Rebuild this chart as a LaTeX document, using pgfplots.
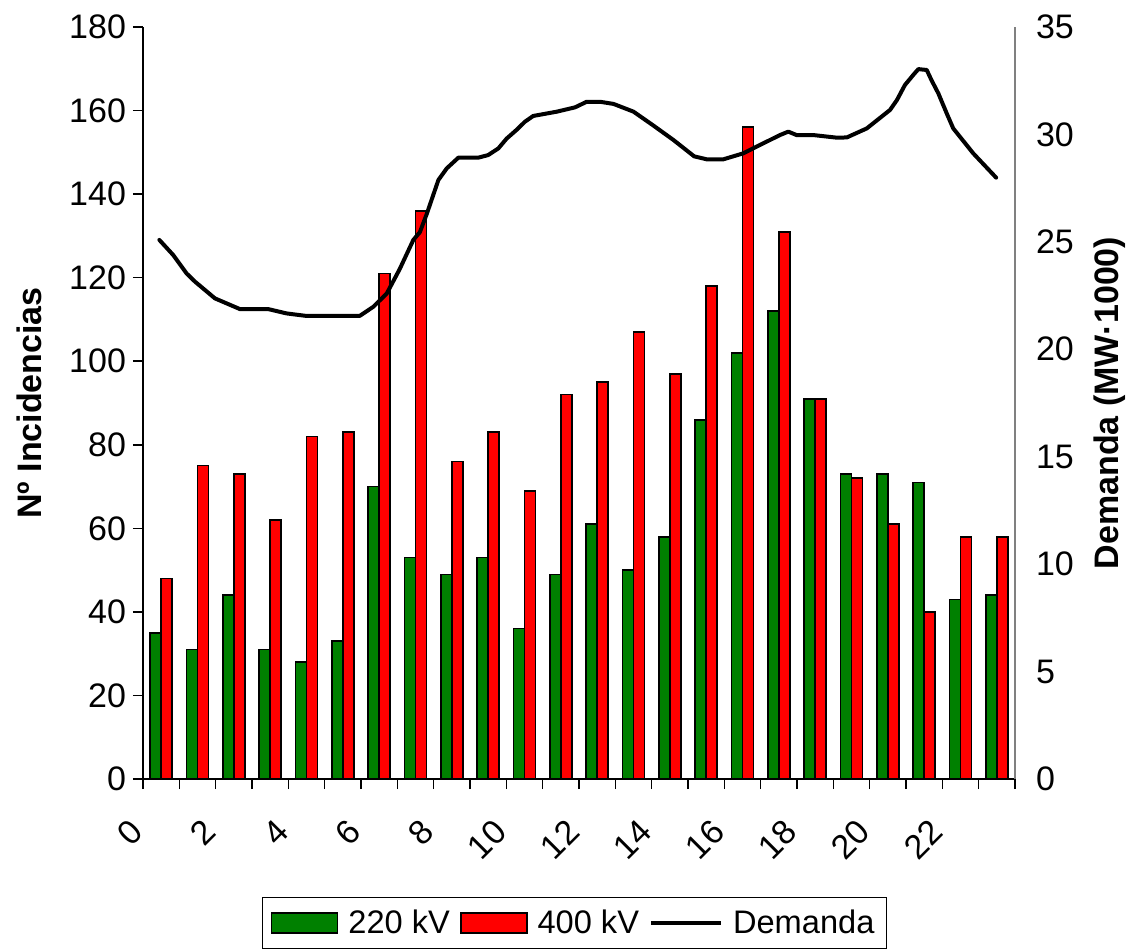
\documentclass[border=0pt]{standalone}
\usepackage{pgfplots}
\pgfplotsset{compat=1.18}
\usepackage{fontspec}
\setmainfont{Liberation Sans}
\newcommand\fs{\fontsize{17}{20.4}\selectfont}
\newcommand\fsl{\fontsize{16.3}{19.5}\selectfont}
\definecolor{bargreen}{HTML}{008000}
\definecolor{barred}{HTML}{FF0000}
\pgfplotsset{
  barlegend/.style={legend image code/.code={\draw[##1] (0pt,-5pt) rectangle (33pt,5pt); \path (36pt,0pt);}},
  linelegend/.style={legend image code/.code={\draw[##1] (0pt,0pt) -- (35pt,0pt); \path (38pt,0pt);}},
}

\pgfplotstableread{
h g r
0.5 35 48
1.5 31 75
2.5 44 73
3.5 31 62
4.5 28 82
5.5 33 83
6.5 70 121
7.5 53 136
8.5 49 76
9.5 53 83
10.5 36 69
11.5 49 92
12.5 61 95
13.5 50 107
14.5 58 97
15.5 86 118
16.5 102 156
17.5 112 131
18.5 91 91
19.5 73 72
20.5 73 61
21.5 71 40
22.5 43 58
23.5 44 58
}\bars

\pgfplotstableread{
x d
0.45 25.09
0.83 24.39
1.20 23.53
1.43 23.15
1.98 22.37
2.67 21.87
3.45 21.87
3.95 21.67
4.51 21.55
5.42 21.55
5.97 21.56
6.34 21.98
6.71 22.60
7.07 23.75
7.44 25.09
7.62 25.45
7.81 26.30
8.13 27.88
8.36 28.42
8.68 28.92
9.23 28.92
9.50 29.04
9.78 29.35
10.01 29.81
10.28 30.21
10.51 30.59
10.74 30.86
11.39 31.06
11.89 31.26
12.21 31.52
12.58 31.52
12.95 31.42
13.50 31.06
14.05 30.41
14.60 29.74
15.17 28.98
15.52 28.84
15.97 28.84
16.52 29.12
16.98 29.51
17.53 29.97
17.76 30.13
17.99 29.97
18.45 29.97
19.09 29.85
19.37 29.86
19.92 30.28
20.56 31.14
20.75 31.60
20.97 32.30
21.20 32.77
21.34 33.04
21.57 33.00
21.70 32.53
21.89 31.91
22.12 30.98
22.30 30.28
22.85 29.12
23.48 27.99
}\demanda

\begin{document}
\begin{tikzpicture}
\begin{axis}[
  scale only axis,
  width=436pt, height=376pt,
  xmin=0, xmax=24, ymin=0, ymax=180,
  axis x line*=bottom, axis y line*=left,
  axis line style={black, line width=0.8pt, -},
  xtick={0,1,...,24},
  xticklabels={0,,2,,4,,6,,8,,10,,12,,14,,16,,18,,20,,22,,},
  ytick={0,20,...,180},
  tick align=outside,
  major tick length=5pt,
  tick style={black, line width=0.8pt},
  every tick label/.append style={font=\fs},
  /pgf/number format/assume math mode=true,
  xticklabel style={xshift=-0.5pt, yshift=-16pt, rotate=45, anchor=east},
  ylabel={Nº Incidencias},
  ylabel style={font=\fs\bfseries, at={(axis description cs:-0.13,0.5)}, anchor=center},
  legend columns=3,
  legend style={at={(axis description cs:0.495,-0.157)}, anchor=north,
    draw=black, line width=0.6pt, font=\fsl, inner xsep=4pt, inner ysep=4pt,
    /tikz/every even column/.append style={column sep=3pt}},
  legend cell align=left,
]
\addplot[ybar, bar width=5.45pt, bar shift=-2.72pt, fill=bargreen, draw=black, line width=0.8pt, barlegend] table[x=h,y=g]{\bars};
\addlegendentry{220 kV}
\addplot[ybar, bar width=5.45pt, bar shift=2.72pt, fill=barred, draw=black, line width=0.8pt, barlegend] table[x=h,y=r]{\bars};
\addlegendentry{400 kV}
\addlegendimage{black, line width=2pt, linelegend}
\addlegendentry{Demanda}
\end{axis}
\begin{axis}[
  scale only axis,
  width=436pt, height=376pt,
  xmin=0, xmax=24, ymin=0, ymax=35,
  axis x line=none,
  axis y line*=right,
  axis line style={gray, line width=0.8pt, -},
  ytick={0,5,...,35},
  major tick length=0pt,
  every tick label/.append style={font=\fs},
  /pgf/number format/assume math mode=true,
  yticklabel style={xshift=7pt},
  ylabel={Demanda (MW·1000)},
  ylabel style={font=\fs\bfseries, at={(axis description cs:1.109,0.5)}, anchor=center, rotate=0},
]
\addplot[black, line width=2pt, line join=round, line cap=round] table[x=x,y=d]{\demanda};
\end{axis}
\pgfresetboundingbox
\path (-71.5pt,-85.5pt) rectangle (492pt,389.5pt);
\end{tikzpicture}
\end{document}
